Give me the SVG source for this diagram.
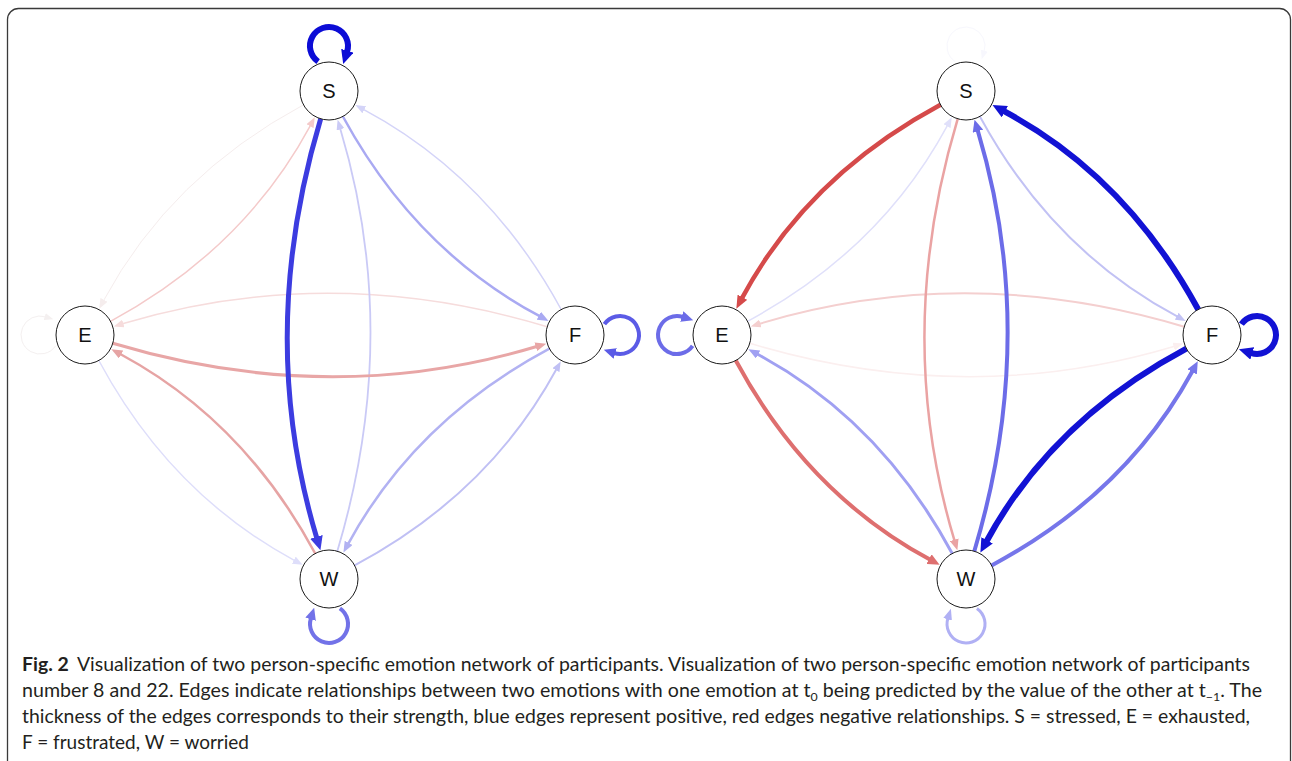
<svg xmlns="http://www.w3.org/2000/svg" width="1292" height="761" viewBox="0 0 1292 761">
<style>
.e{fill:none;stroke-linecap:butt}
.n circle{fill:#fff;stroke:#1a1a1a;stroke-width:1}
.n text{font-family:"Liberation Sans",Arial,sans-serif;font-size:20px;fill:#111;text-anchor:middle}
.cap{font-family:Lato,"Open Sans",sans-serif;font-size:19px;fill:#231f20}
</style>
<defs>
<marker id="mL_SW" markerUnits="userSpaceOnUse" markerWidth="14" markerHeight="13" viewBox="0 0 14 13" refX="1" refY="6.5" orient="auto"><path d="M0,0L14,6.5L0,13z" fill="#3c3ce0"/></marker>
<marker id="mL_WS" markerUnits="userSpaceOnUse" markerWidth="10" markerHeight="8" viewBox="0 0 10 8" refX="1" refY="4" orient="auto"><path d="M0,0L10,4L0,8z" fill="#cacaf6"/></marker>
<marker id="mL_SF" markerUnits="userSpaceOnUse" markerWidth="11" markerHeight="9" viewBox="0 0 11 9" refX="1" refY="4.5" orient="auto"><path d="M0,0L11,4.5L0,9z" fill="#a9a9f2"/></marker>
<marker id="mL_FS" markerUnits="userSpaceOnUse" markerWidth="10" markerHeight="8" viewBox="0 0 10 8" refX="1" refY="4" orient="auto"><path d="M0,0L10,4L0,8z" fill="#d4d4f8"/></marker>
<marker id="mL_ES" markerUnits="userSpaceOnUse" markerWidth="10" markerHeight="8" viewBox="0 0 10 8" refX="1" refY="4" orient="auto"><path d="M0,0L10,4L0,8z" fill="#f4caca"/></marker>
<marker id="mL_SE" markerUnits="userSpaceOnUse" markerWidth="10" markerHeight="8" viewBox="0 0 10 8" refX="1" refY="4" orient="auto"><path d="M0,0L10,4L0,8z" fill="#f5eded"/></marker>
<marker id="mL_FE" markerUnits="userSpaceOnUse" markerWidth="10" markerHeight="8" viewBox="0 0 10 8" refX="1" refY="4" orient="auto"><path d="M0,0L10,4L0,8z" fill="#f6dcdc"/></marker>
<marker id="mL_EF" markerUnits="userSpaceOnUse" markerWidth="11" markerHeight="9" viewBox="0 0 11 9" refX="1" refY="4.5" orient="auto"><path d="M0,0L11,4.5L0,9z" fill="#e8a6a6"/></marker>
<marker id="mL_EW" markerUnits="userSpaceOnUse" markerWidth="10" markerHeight="8" viewBox="0 0 10 8" refX="1" refY="4" orient="auto"><path d="M0,0L10,4L0,8z" fill="#dedefa"/></marker>
<marker id="mL_WE" markerUnits="userSpaceOnUse" markerWidth="11" markerHeight="9" viewBox="0 0 11 9" refX="1" refY="4.5" orient="auto"><path d="M0,0L11,4.5L0,9z" fill="#e6a4a4"/></marker>
<marker id="mL_WF" markerUnits="userSpaceOnUse" markerWidth="10" markerHeight="8" viewBox="0 0 10 8" refX="1" refY="4" orient="auto"><path d="M0,0L10,4L0,8z" fill="#c0c0f4"/></marker>
<marker id="mL_FW" markerUnits="userSpaceOnUse" markerWidth="11" markerHeight="9" viewBox="0 0 11 9" refX="1" refY="4.5" orient="auto"><path d="M0,0L11,4.5L0,9z" fill="#b2b2f2"/></marker>
<marker id="mL_SS" markerUnits="userSpaceOnUse" markerWidth="14" markerHeight="13" viewBox="0 0 14 13" refX="1" refY="6.5" orient="auto"><path d="M0,0L14,6.5L0,13z" fill="#0c0cd6"/></marker>
<marker id="mL_EE" markerUnits="userSpaceOnUse" markerWidth="9" markerHeight="7" viewBox="0 0 9 7" refX="1" refY="3.5" orient="auto"><path d="M0,0L9,3.5L0,7z" fill="#f4f0f0"/></marker>
<marker id="mL_FF" markerUnits="userSpaceOnUse" markerWidth="12" markerHeight="11" viewBox="0 0 12 11" refX="1" refY="5.5" orient="auto"><path d="M0,0L12,5.5L0,11z" fill="#5b5be6"/></marker>
<marker id="mL_WW" markerUnits="userSpaceOnUse" markerWidth="12" markerHeight="11" viewBox="0 0 12 11" refX="1" refY="5.5" orient="auto"><path d="M0,0L12,5.5L0,11z" fill="#7272e8"/></marker>
<marker id="mR_SE" markerUnits="userSpaceOnUse" markerWidth="13" markerHeight="11" viewBox="0 0 13 11" refX="1" refY="5.5" orient="auto"><path d="M0,0L13,5.5L0,11z" fill="#d54a4a"/></marker>
<marker id="mR_ES" markerUnits="userSpaceOnUse" markerWidth="10" markerHeight="8" viewBox="0 0 10 8" refX="1" refY="4" orient="auto"><path d="M0,0L10,4L0,8z" fill="#e0e0fa"/></marker>
<marker id="mR_SF" markerUnits="userSpaceOnUse" markerWidth="10" markerHeight="8" viewBox="0 0 10 8" refX="1" refY="4" orient="auto"><path d="M0,0L10,4L0,8z" fill="#c2c2f4"/></marker>
<marker id="mR_dark" markerUnits="userSpaceOnUse" markerWidth="14" markerHeight="13" viewBox="0 0 14 13" refX="1" refY="6.5" orient="auto"><path d="M0,0L14,6.5L0,13z" fill="#1212d4"/></marker>
<marker id="mR_SW" markerUnits="userSpaceOnUse" markerWidth="11" markerHeight="9" viewBox="0 0 11 9" refX="1" refY="4.5" orient="auto"><path d="M0,0L11,4.5L0,9z" fill="#eaa3a3"/></marker>
<marker id="mR_mid" markerUnits="userSpaceOnUse" markerWidth="12" markerHeight="11" viewBox="0 0 12 11" refX="1" refY="5.5" orient="auto"><path d="M0,0L12,5.5L0,11z" fill="#6c6ce8"/></marker>
<marker id="mR_EF" markerUnits="userSpaceOnUse" markerWidth="10" markerHeight="8" viewBox="0 0 10 8" refX="1" refY="4" orient="auto"><path d="M0,0L10,4L0,8z" fill="#fbefef"/></marker>
<marker id="mR_FE" markerUnits="userSpaceOnUse" markerWidth="10" markerHeight="8" viewBox="0 0 10 8" refX="1" refY="4" orient="auto"><path d="M0,0L10,4L0,8z" fill="#f4cfcf"/></marker>
<marker id="mR_EW" markerUnits="userSpaceOnUse" markerWidth="12" markerHeight="11" viewBox="0 0 12 11" refX="1" refY="5.5" orient="auto"><path d="M0,0L12,5.5L0,11z" fill="#de6f6f"/></marker>
<marker id="mR_WE" markerUnits="userSpaceOnUse" markerWidth="11" markerHeight="9" viewBox="0 0 11 9" refX="1" refY="4.5" orient="auto"><path d="M0,0L11,4.5L0,9z" fill="#a0a0f2"/></marker>
<marker id="mR_WF" markerUnits="userSpaceOnUse" markerWidth="12" markerHeight="11" viewBox="0 0 12 11" refX="1" refY="5.5" orient="auto"><path d="M0,0L12,5.5L0,11z" fill="#7676ea"/></marker>
<marker id="mR_WW" markerUnits="userSpaceOnUse" markerWidth="11" markerHeight="9" viewBox="0 0 11 9" refX="1" refY="4.5" orient="auto"><path d="M0,0L11,4.5L0,9z" fill="#b0b0f4"/></marker>
<marker id="mR_SS" markerUnits="userSpaceOnUse" markerWidth="9" markerHeight="7" viewBox="0 0 9 7" refX="1" refY="3.5" orient="auto"><path d="M0,0L9,3.5L0,7z" fill="#f7f7fd"/></marker>
</defs>

<rect x="7.5" y="8.5" width="1283" height="800" rx="11" fill="#fff" stroke="#3a3a3a" stroke-width="1.3"/>

<!-- LEFT NETWORK -->
<g id="connectors-left">
<path class="e" d="M303.5,104.8 Q170.4,176.4 103.5,300.7" stroke="#f5eded" stroke-width="1" marker-end="url(#mL_SE)"/>
<path class="e" d="M55.6,345.9 A19,19 0 1 1 45.7,316.9" stroke="#f4f0f0" stroke-width="1" marker-end="url(#mL_EE)"/>
<path class="e" d="M547.2,326.7 Q330,261.5 122.4,323.8" stroke="#f6dcdc" stroke-width="1.5" marker-end="url(#mL_FE)"/>
<path class="e" d="M110.5,321.3 Q243.6,249.6 310.5,125.3" stroke="#f4caca" stroke-width="1.5" marker-end="url(#mL_ES)"/>
<path class="e" d="M98.8,360.5 Q170.4,493.6 294.7,560.6" stroke="#dedefa" stroke-width="1.5" marker-end="url(#mL_EW)"/>
<path class="e" d="M561.2,309.5 Q488.6,176.1 363.4,109.3" stroke="#d4d4f8" stroke-width="1.5" marker-end="url(#mL_FS)"/>
<path class="e" d="M337.3,551.2 Q402.2,335 340.2,128.4" stroke="#cacaf6" stroke-width="1.8" marker-end="url(#mL_WS)"/>
<path class="e" d="M354.6,565.4 Q488.6,493.9 556.4,369.3" stroke="#c0c0f4" stroke-width="2" marker-end="url(#mL_WF)"/>
<path class="e" d="M549.4,348.6 Q415.4,420.1 348.2,543.8" stroke="#b2b2f2" stroke-width="2.5" marker-end="url(#mL_FW)"/>
<path class="e" d="M342.9,116.5 Q415.4,249.9 539.7,316.2" stroke="#a9a9f2" stroke-width="2.5" marker-end="url(#mL_SF)"/>
<path class="e" d="M315.2,553.5 Q243.6,420.4 120.2,354.0" stroke="#e6a4a4" stroke-width="2.5" marker-end="url(#mL_WE)"/>
<path class="e" d="M112.8,343.3 Q330,408.5 536.7,346.5" stroke="#e8a6a6" stroke-width="3" marker-end="url(#mL_EF)"/>
<path class="e" d="M604.4,324.1 A19,19 0 1 1 614.3,353.1" stroke="#5b5be6" stroke-width="4" marker-end="url(#mL_FF)"/>
<path class="e" d="M339.9,608.4 A19,19 0 1 1 310.9,618.3" stroke="#7272e8" stroke-width="4" marker-end="url(#mL_WW)"/>
<path class="e" d="M320.7,118.8 Q255.8,335 316.7,537.8" stroke="#3c3ce0" stroke-width="5" marker-end="url(#mL_SW)"/>
<path class="e" d="M318.1,61.6 A19,19 0 1 1 347.1,51.7" stroke="#0c0cd6" stroke-width="6" marker-end="url(#mL_SS)"/>
</g>
<g id="L-S" class="n"><circle cx="329" cy="91" r="29"/><text x="329" y="98">S</text></g>
<g id="L-E" class="n"><circle cx="85" cy="335" r="29"/><text x="85" y="342">E</text></g>
<g id="L-F" class="n"><circle cx="575" cy="335" r="29"/><text x="575" y="342">F</text></g>
<g id="L-W" class="n"><circle cx="329" cy="579" r="29"/><text x="329" y="586">W</text></g>

<!-- RIGHT NETWORK -->
<g transform="translate(637,0)">
<g id="connectors-right">
<path class="e" d="M112.8,343.3 Q330,408.5 537.6,346.2" stroke="#fbefef" stroke-width="1.5" marker-end="url(#mR_EF)"/>
<path class="e" d="M318.1,61.6 A19,19 0 1 1 347.1,51.7" stroke="#f7f7fd" stroke-width="1" marker-end="url(#mR_SS)"/>
<path class="e" d="M110.5,321.3 Q243.6,249.6 310.5,125.3" stroke="#e0e0fa" stroke-width="1.5" marker-end="url(#mR_ES)"/>
<path class="e" d="M547.2,326.7 Q330,261.5 122.4,323.8" stroke="#f4cfcf" stroke-width="2" marker-end="url(#mR_FE)"/>
<path class="e" d="M342.9,116.5 Q415.4,249.9 540.6,316.7" stroke="#c2c2f4" stroke-width="2" marker-end="url(#mR_SF)"/>
<path class="e" d="M339.9,608.4 A19,19 0 1 1 310.9,618.3" stroke="#b0b0f4" stroke-width="3" marker-end="url(#mR_WW)"/>
<path class="e" d="M320.7,118.8 Q255.8,335 317.5,540.7" stroke="#eaa3a3" stroke-width="2.5" marker-end="url(#mR_SW)"/>
<path class="e" d="M315.2,553.5 Q243.6,420.4 120.2,354.0" stroke="#a0a0f2" stroke-width="3" marker-end="url(#mR_WE)"/>
<path class="e" d="M354.6,565.4 Q488.6,493.9 555.5,371.0" stroke="#7676ea" stroke-width="4" marker-end="url(#mR_WF)"/>
<path class="e" d="M337.3,551.2 Q402.2,335 340.7,130.3" stroke="#6c6ce8" stroke-width="4" marker-end="url(#mR_mid)"/>
<path class="e" d="M55.6,345.9 A19,19 0 1 1 45.7,316.9" stroke="#6c6ce8" stroke-width="4" marker-end="url(#mR_mid)"/>
<path class="e" d="M98.8,360.5 Q170.4,493.6 292.9,559.6" stroke="#de6f6f" stroke-width="4" marker-end="url(#mR_EW)"/>
<path class="e" d="M303.5,104.8 Q170.4,176.4 105.0,298.1" stroke="#d54a4a" stroke-width="4.5" marker-end="url(#mR_SE)"/>
<path class="e" d="M561.2,309.5 Q488.6,176.1 367.0,111.2" stroke="#1212d4" stroke-width="6" marker-end="url(#mR_dark)"/>
<path class="e" d="M549.4,348.6 Q415.4,420.1 349.6,541.2" stroke="#1212d4" stroke-width="6" marker-end="url(#mR_dark)"/>
<path class="e" d="M604.4,324.1 A19,19 0 1 1 614.3,353.1" stroke="#1212d4" stroke-width="6" marker-end="url(#mR_dark)"/>
</g>
<g id="R-S" class="n"><circle cx="329" cy="91" r="29"/><text x="329" y="98">S</text></g>
<g id="R-E" class="n"><circle cx="85" cy="335" r="29"/><text x="85" y="342">E</text></g>
<g id="R-F" class="n"><circle cx="575" cy="335" r="29"/><text x="575" y="342">F</text></g>
<g id="R-W" class="n"><circle cx="329" cy="579" r="29"/><text x="329" y="586">W</text></g>
</g>

<!-- CAPTION -->
<g id="caption" class="cap">
<text x="22" y="671" textLength="1228" lengthAdjust="spacingAndGlyphs"><tspan font-weight="bold">Fig. 2</tspan><tspan dx="8">Visualization of two person-specific emotion network of participants. Visualization of two person-specific emotion network of participants</tspan></text>
<text x="22" y="697" textLength="1240" lengthAdjust="spacingAndGlyphs">number 8 and 22. Edges indicate relationships between two emotions with one emotion at t<tspan font-size="12" dy="4">0</tspan><tspan dy="-4"> being predicted by the value of the other at t</tspan><tspan font-size="12" dy="4">−1</tspan><tspan dy="-4">. The</tspan></text>
<text x="22" y="723" textLength="1228" lengthAdjust="spacingAndGlyphs">thickness of the edges corresponds to their strength, blue edges represent positive, red edges negative relationships. S = stressed, E = exhausted,</text>
<text x="22" y="749" textLength="227" lengthAdjust="spacingAndGlyphs">F = frustrated, W = worried</text>
</g>
</svg>
